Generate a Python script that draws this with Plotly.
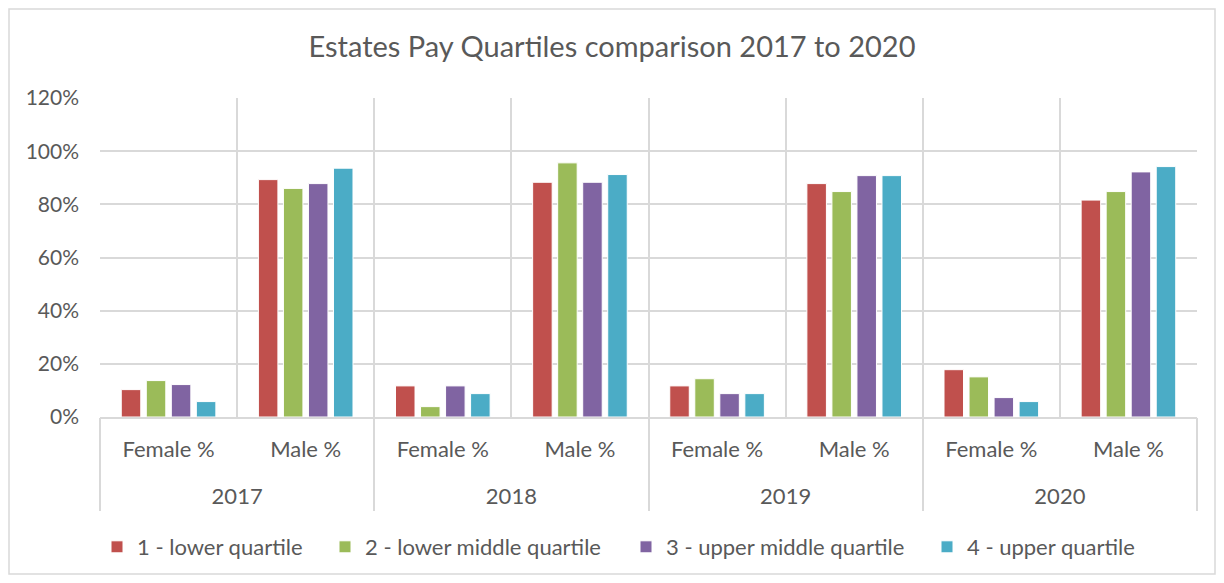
import plotly.graph_objects as go

years = ["2017", "2017", "2018", "2018", "2019", "2019", "2020", "2020"]
genders = ["Female %", "Male %"] * 4
year_labels = ["2017", "2018", "2019", "2020"]

series_names = ["1 - lower quartile", "2 - lower middle quartile",
                "3 - upper middle quartile", "4 - upper quartile"]
q1 = [0.103, 0.893, 0.117, 0.883, 0.117, 0.878, 0.178, 0.816]
q2 = [0.137, 0.860, 0.039, 0.956, 0.144, 0.848, 0.151, 0.848]
q3 = [0.122, 0.878, 0.117, 0.883, 0.088, 0.908, 0.073, 0.922]
q4 = [0.058, 0.936, 0.088, 0.912, 0.088, 0.908, 0.058, 0.942]
colors = ["#C0504D", "#9BBB59", "#8064A2", "#4BACC6"]

FONT = "Lato, 'Open Sans', sans-serif"
TXT = "#595959"
GRID = "#D9D9D9"

W, H = 1208, 567
L, R, T, B = 92, 19, 90, 158
PW, PH = W - L - R, H - T - B
OFF = 8  # page offset of the figure

x_cats = [f"{y} {g}" for y, g in zip(years, genders)]
n_years = len(year_labels)

# screen x of each legend square's left edge in the reference
legend_left = [111, 339, 640, 941]
SYM_OFF = 14

fig = go.Figure()
legend_ids = ["legend", "legend2", "legend3", "legend4"]
for name, vals, col, lid in zip(series_names, [q1, q2, q3, q4], colors, legend_ids):
    fig.add_trace(go.Bar(
        x=x_cats, y=vals, name=name, legend=lid,
        marker=dict(color=col, line=dict(color="white", width=1)),
    ))

# carrier for the year-level axis (no visible marks)
fig.add_trace(go.Scatter(x=[None], y=[None], xaxis="x2", yaxis="y", mode="markers",
                         showlegend=False, hoverinfo="skip"))

legend_y = (PH - (547 - OFF - T)) / PH
legends = {}
for lid, lx in zip(legend_ids, legend_left):
    legends[lid] = dict(orientation="h", x=(lx - OFF - L - SYM_OFF) / PW, xanchor="left",
                        y=legend_y, yanchor="middle", bgcolor="rgba(0,0,0,0)",
                        font=dict(size=22, color=TXT, family=FONT), itemwidth=30)

fig.update_layout(
    width=W, height=H,
    margin=dict(l=L, r=R, t=T, b=B, autoexpand=False),
    paper_bgcolor="white", plot_bgcolor="white",
    font=dict(family=FONT, color=TXT, size=22),
    title=dict(text="Estates Pay Quartiles comparison 2017 to 2020",
               x=0.5, xanchor="center", y=1 - 39 / H, yanchor="middle",
               font=dict(size=29, color=TXT, family=FONT)),
    barmode="group", bargap=0.27, bargroupgap=0.22,
    showlegend=True,
    xaxis=dict(type="category", categoryorder="array", categoryarray=x_cats,
               tickvals=x_cats, ticktext=genders,
               showgrid=True, gridcolor=GRID, gridwidth=2,
               tickson="boundaries", ticks="", ticklabelstandoff=12,
               showline=True, linecolor=GRID, linewidth=2,
               tickfont=dict(size=22, color=TXT)),
    xaxis2=dict(overlaying="x", anchor="y", side="bottom", type="linear",
                range=[0, n_years], tickvals=[i + 0.5 for i in range(n_years)],
                ticktext=year_labels, showgrid=False, zeroline=False, showline=False,
                ticks="", ticklabelstandoff=64,
                minor=dict(tickvals=list(range(n_years + 1)), ticks="outside",
                           ticklen=93, tickcolor=GRID, tickwidth=2, showgrid=False),
                tickfont=dict(size=22, color=TXT)),
    yaxis=dict(range=[0, 1.2], dtick=0.2, tickformat=".0%", showgrid=True,
               gridcolor=GRID, gridwidth=2, zeroline=False, showline=False,
               ticks="", ticklabelstandoff=20,
               tickfont=dict(size=21, color=TXT)),
    shapes=[dict(type="rect", xref="paper", yref="paper",
                 x0=(1 - L) / PW, x1=1 + (R - 1) / PW, y0=-(B - 1) / PH, y1=1 + (T - 1) / PH,
                 line=dict(color=GRID, width=1.5), fillcolor="rgba(0,0,0,0)",
                 layer="below")],
    **legends,
)

fig.write_html("out.html")
